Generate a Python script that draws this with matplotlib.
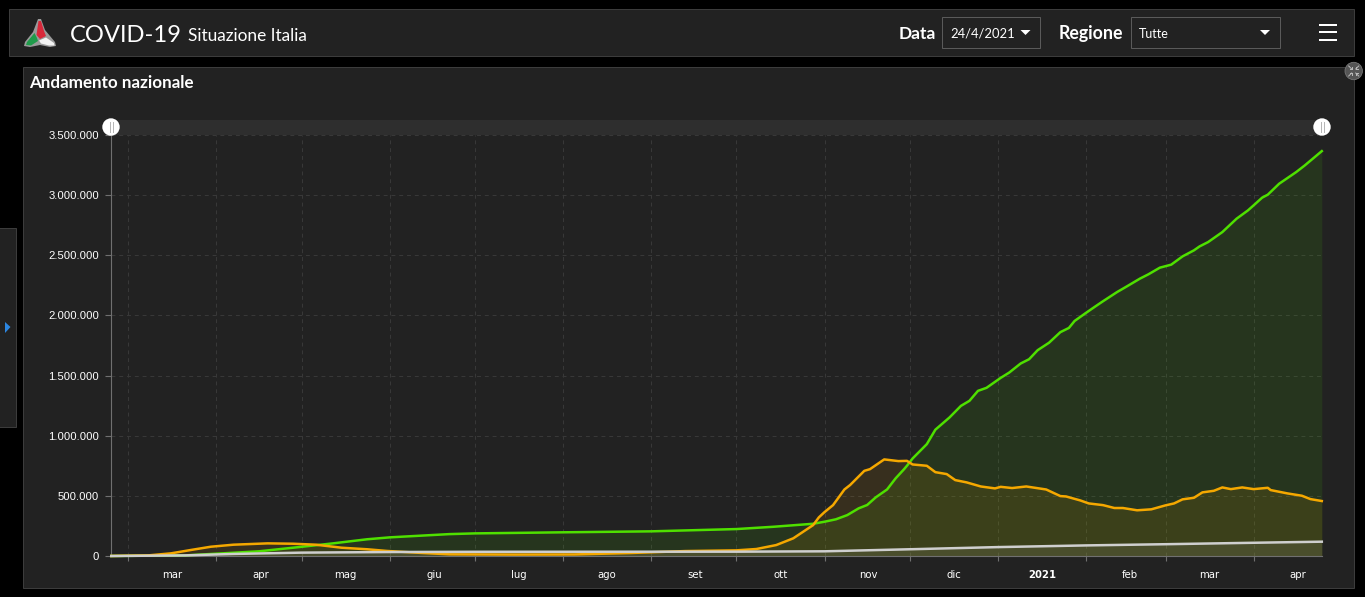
import matplotlib
matplotlib.use("Agg")
import matplotlib.pyplot as plt
import matplotlib.dates as mdates
from matplotlib.patches import Rectangle, Polygon, Circle
from matplotlib.ticker import FuncFormatter, FixedLocator
import pandas as pd

positivi_dates = ["2020-02-24","2020-03-08","2020-03-16","2020-03-23","2020-03-30","2020-04-07","2020-04-19","2020-04-28",
    "2020-05-06","2020-05-15","2020-05-24","2020-05-31","2020-06-11","2020-06-22","2020-07-15","2020-08-05","2020-08-25",
    "2020-09-13","2020-10-01","2020-10-08","2020-10-15","2020-10-21","2020-10-28","2020-10-30","2020-11-01","2020-11-04",
    "2020-11-08","2020-11-10","2020-11-15","2020-11-17","2020-11-22","2020-11-27","2020-11-30","2020-12-02","2020-12-07",
    "2020-12-10","2020-12-14","2020-12-17","2020-12-21","2020-12-26","2020-12-31","2021-01-02","2021-01-06","2021-01-11",
    "2021-01-18","2021-01-23","2021-01-25","2021-01-30","2021-02-02","2021-02-07","2021-02-11","2021-02-14","2021-02-19",
    "2021-02-24","2021-03-01","2021-03-04","2021-03-07","2021-03-11","2021-03-14","2021-03-18","2021-03-21","2021-03-24",
    "2021-03-28","2021-04-01","2021-04-06","2021-04-07","2021-04-13","2021-04-18","2021-04-21","2021-04-25"]
positivi_values = [300,5000,22000,50000,77000,94000,105000,102000,
    94000,69000,56000,42000,27000,14000,12000,13000,25000,
    41000,47000,58000,91000,147000,257000,321000,365000,423000,
    553000,590000,708000,722000,803000,789000,791000,761000,750000,
    697000,681000,631000,612000,578000,562000,575000,565000,578000,
    553000,498000,495000,462000,437000,423000,399000,399000,380000,
    388000,421000,437000,471000,484000,529000,542000,570000,556000,
    570000,556000,567000,548000,520000,501000,473000,457000]

guariti_dates = ["2020-02-24","2020-03-21","2020-04-07","2020-04-16","2020-04-28","2020-05-12","2020-05-24","2020-06-01",
    "2020-06-22","2020-07-01","2020-08-01","2020-09-01","2020-10-01","2020-10-14","2020-10-28","2020-11-01","2020-11-05",
    "2020-11-09","2020-11-13","2020-11-16","2020-11-19","2020-11-23","2020-11-26","2020-11-29","2020-11-30","2020-12-02",
    "2020-12-07","2020-12-10","2020-12-15","2020-12-19","2020-12-22","2020-12-25","2020-12-28","2021-01-02","2021-01-05",
    "2021-01-09","2021-01-12","2021-01-15","2021-01-19","2021-01-23","2021-01-26","2021-01-28","2021-02-01","2021-02-04",
    "2021-02-07","2021-02-12","2021-02-15","2021-02-20","2021-02-23","2021-02-27","2021-03-03","2021-03-07","2021-03-11",
    "2021-03-13","2021-03-16","2021-03-21","2021-03-26","2021-03-30","2021-04-01","2021-04-04","2021-04-06","2021-04-10",
    "2021-04-16","2021-04-19","2021-04-25"]
guariti_values = [0,5000,27000,39000,69000,105000,139000,155000,
    182000,188000,197000,205000,224000,243000,268000,285000,305000,
    340000,396000,424000,487000,553000,645000,722000,750000,811000,
    930000,1050000,1152000,1248000,1290000,1373000,1398000,1481000,1525000,
    1600000,1636000,1711000,1773000,1861000,1896000,1954000,2021000,2070000,
    2118000,2195000,2236000,2306000,2342000,2397000,2422000,2491000,2541000,
    2574000,2610000,2693000,2804000,2873000,2915000,2979000,3004000,3095000,
    3192000,3247000,3366000]

deceduti_dates = ["2020-02-24","2020-03-21","2020-04-07","2020-05-01","2020-06-01","2020-07-01","2020-10-01","2020-11-01",
    "2020-12-01","2021-01-01","2021-02-01","2021-03-01","2021-04-01","2021-04-25"]
deceduti_values = [0,5000,17000,28000,33000,35000,36000,39000,56000,74000,88000,98000,110000,119000]

y_ticks = [0,500000,1000000,1500000,2000000,2500000,3000000,3500000]
month_labels = ["mar","apr","mag","giu","lug","ago","set","ott","nov","dic","2021","feb","mar","apr"]
month_starts = pd.date_range("2020-03-01","2021-04-01",freq="MS")

W, H = 1365, 597
BG = "#222222"; EDGE = "#3c3c3c"
fig = plt.figure(figsize=(W/100, H/100), dpi=100, facecolor="black")

# --- page chrome, in pixel coordinates ---
ui = fig.add_axes([0,0,1,1], zorder=0); ui.set_xlim(0,W); ui.set_ylim(H,0); ui.axis("off")
def box(x0,y0,x1,y1,fc=BG,ec=EDGE,lw=1):
    ui.add_patch(Rectangle((x0,y0),x1-x0,y1-y0,fc=fc,ec=ec,lw=lw*0.72))
box(8.5,8.5,1353.5,55.5)
box(22.5,66.5,1353.5,587.5)
box(-5,227.5,15.5,426.5)
box(941.5,16.5,1039.5,47.5,ec="#5a5a5a")
box(1130.5,16.5,1279.5,47.5,ec="#5a5a5a")
ui.add_patch(Polygon([(5,322),(10.5,327),(5,333)],fc="#2c86e0",ec="none"))
ui.add_patch(Rectangle((111.3,120),1210.5,15,fc="#2e2e2e",ec="none"))
for pts in ([(1020.5,30),(1030.5,30),(1025.5,35)],[(1260,30),(1270,30),(1265,35)]):
    ui.add_patch(Polygon(pts,fc="white",ec="none"))
for yy in (24.5,32,39.5):
    ui.add_patch(Rectangle((1319,yy-1),18,2,fc="white",ec="none"))
# logo
ui.add_patch(Polygon([(38,19),(41,19),(45,30),(55,42),(56,46),(50,47),(40,45),(30,47),(24,46),(25,42),(33,32)],fc="#9a9a9a",ec="none"))
ui.add_patch(Polygon([(38.5,21),(41,21),(44,31),(46,36),(40,39),(36.5,35)],fc="#d8283a",ec="none"))
ui.add_patch(Polygon([(34.5,33),(37,38),(38,41),(31,45.5),(26,45),(27,42)],fc="#1f9a4a",ec="none"))
ui.add_patch(Polygon([(39,40.5),(46,37.5),(54,43),(54.5,45.5),(49,45.5),(41,43.5)],fc="#f2f2f2",ec="none"))

def txt(x,y,s,size,weight="normal",family="Lato",ha="left"):
    ui.text(x,y,s,fontsize=size*0.72,fontweight=weight,family=family,color="white",ha=ha,va="baseline")
txt(70,42,"COVID-19",23.8)
txt(188,41,"Situazione Italia",17.2)
txt(29,88,"Andamento nazionale",17,weight="bold")
txt(899,39,"Data",17.4,weight="bold")
txt(1059,39,"Regione",17.8,weight="bold")
txt(950,38,"24/4/2021",13)
txt(1139,38,"Tutte",12.5)

# --- chart ---
ax = fig.add_axes([111.3/W,(H-556)/H,1210.5/W,421/H],zorder=1)
ax.patch.set_alpha(0)
series = [(guariti_dates,guariti_values,"#4fe000"),
          (positivi_dates,positivi_values,"#f5a800"),
          (deceduti_dates,deceduti_values,"#cfcfcf")]
for d,v,c in series:
    dd = pd.to_datetime(d)
    ax.fill_between(dd,v,0,color=c,alpha=0.1,lw=0,zorder=2)
for d,v,c in series:
    ax.plot(pd.to_datetime(d),v,color=c,lw=1.8,solid_joinstyle="round",zorder=3,clip_on=False)
ax.set_xlim(pd.Timestamp("2020-02-24"),pd.Timestamp("2021-04-25"))
ax.set_ylim(0,3500000)
ax.set_yticks(y_ticks)
ax.yaxis.set_major_formatter(FuncFormatter(lambda v,_: f"{int(v):,}".replace(",",".")))
ax.set_xticks(month_starts)
ax.xaxis.set_major_formatter(FuncFormatter(lambda v,_: ""))
mids = [mdates.date2num(m+pd.Timedelta(days=15.5)) for m in month_starts]
ax.xaxis.set_minor_locator(FixedLocator(mids))
ax.set_xticklabels(month_labels,minor=True)
ax.tick_params(axis="x",which="major",length=5*0.72,color="#707070",width=0.8)
ax.tick_params(axis="x",which="minor",length=0,pad=10,labelsize=7.3,labelcolor="white")
ax.tick_params(axis="y",length=6*0.72,color="#707070",width=0.8,pad=4.3,labelsize=8.1,labelcolor="white")
for l in ax.get_yticklabels():
    l.set_family("Liberation Sans")
for l in ax.get_xticklabels(minor=True):
    l.set_family("DejaVu Sans")
    if l.get_text()=="2021":
        l.set_fontweight("bold")
ax.grid(True,which="major",color="#393939",lw=0.7,ls=(0,(4,4)),zorder=1)
for s in ("top","right"):
    ax.spines[s].set_visible(False)
for s in ("left","bottom"):
    ax.spines[s].set_color("#707070"); ax.spines[s].set_linewidth(0.8)

# --- overlay controls ---
fg = fig.add_axes([0,0,1,1],zorder=2); fg.set_xlim(0,W); fg.set_ylim(H,0); fg.axis("off"); fg.patch.set_alpha(0)
for cx in (111,1322):
    fg.add_patch(Circle((cx,127),8.7,fc="white",ec="none"))
    for dx in (-1.5,1.5):
        fg.plot([cx+dx,cx+dx],[122,132],color="#b5b5b5",lw=0.7)
fg.add_patch(Circle((1353.7,71),8.7,fc="#555555",ec="#777777",lw=0.6))
for sx,sy in ((-1,-1),(1,-1),(-1,1),(1,1)):
    fg.plot([1353.7+sx*2,1353.7+sx*5],[71+sy*2,71+sy*5],color="#bbbbbb",lw=0.7)
    fg.plot([1353.7+sx*2,1353.7+sx*4],[71+sy*2,71+sy*2],color="#bbbbbb",lw=0.7)
    fg.plot([1353.7+sx*2,1353.7+sx*2],[71+sy*2,71+sy*4],color="#bbbbbb",lw=0.7)

fig.savefig("out.png",dpi=100,facecolor="black")
